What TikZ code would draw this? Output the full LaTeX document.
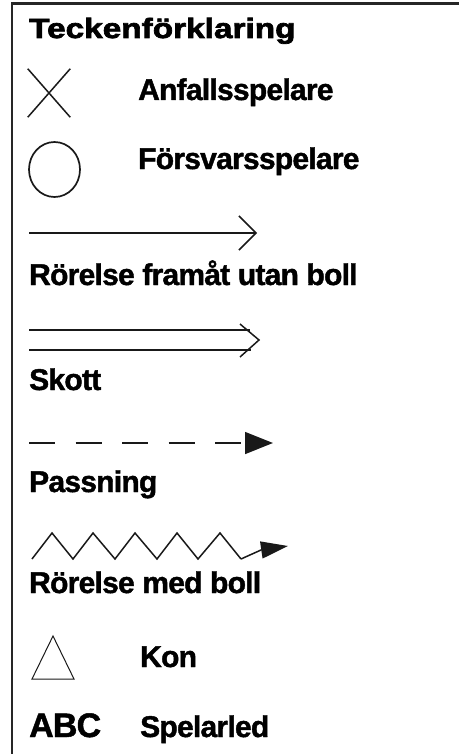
\documentclass[tikz,border=0pt]{standalone}
\usepackage{fontspec}
\setmainfont{Liberation Sans}
\newfontfamily\rubrikfont[FakeStretch=1.2,FakeBold=2.5]{Liberation Sans Bold}
\newfontfamily\lblfont[FakeBold=1.4,LetterSpace=-2.5]{Liberation Sans Bold}
\usetikzlibrary{arrows.meta,shapes.misc,shapes.geometric}
\tikzset{
  lbl/.style={anchor=base west, inner sep=0pt, font=\fontsize{30}{32}\lblfont},
  sym/.style={line width=1.5pt, black!90}
}
\begin{document}
\begin{tikzpicture}[x=1pt, y=-1pt]
        \useasboundingbox (0,0) rectangle (459,754);
        % ram
        \coordinate (ram-nv) at (12,754); \coordinate (ram-v) at (12,3.5); \coordinate (ram-h) at (459,3.5);
        \draw[line width=2.5pt, black!85] (ram-nv) -- (ram-v) -- (ram-h);
        \node[anchor=base west, inner sep=0pt, font=\fontsize{27.8}{30}\selectfont\rubrikfont] (rubrik) at (29,38) {Teckenförklaring};
        % spelare
        \node[sym, draw, cross out, minimum width=41pt, minimum height=47pt, inner sep=0pt] (anfall-sym) at (49,93) {};
        \node[lbl] (anfall) at (138,100) {Anfallsspelare};
        \node[sym, draw, ellipse, minimum width=51pt, minimum height=55pt, inner sep=0pt, line width=1.7pt] (forsvar-sym) at (54.5,169.5) {};
        \node[lbl] (forsvar) at (138,169) {Försvarsspelare};
        % rorelse utan boll
        \coordinate (fram-s) at (29,233); \coordinate (fram-e) at (257,233);
        \draw[sym, -{Straight Barb[length=17pt, width=34pt, line width=1.5pt]}] (fram-s) -- (fram-e);
        \node[lbl] (fram) at (29,285) {Rörelse framåt utan boll};
        % skott
        \coordinate (skott-s1) at (29,330); \coordinate (skott-e1) at (250,330);
        \coordinate (skott-s2) at (29,350); \coordinate (skott-e2) at (251,350);
        \coordinate (skott-e) at (259,340);
        \draw[sym] (skott-s1) -- (skott-e1); \draw[sym] (skott-s2) -- (skott-e2);
        \draw[sym, line join=miter] ([shift={(-19,-16)}]skott-e) -- (skott-e) -- ([shift={(-19,17)}]skott-e);
        \node[lbl] (skott) at (29,390) {Skott};
        % passning
        \coordinate (pass-s) at (29,443); \coordinate (pass-e) at (273,443);
        \draw[sym, dash pattern=on 26pt off 20.5pt, -{Triangle[length=28pt, width=22pt]}] (pass-s) -- (pass-e);
        \node[lbl] (pass) at (29,492) {Passning};
        % rorelse med boll
        \coordinate (boll-s) at (32,559); \coordinate (boll-k) at (241,559);
        \coordinate (boll-m) at (261,550); \coordinate (boll-e) at (288,546);
        \draw[sym, line join=miter] (boll-s) -- (52,533) -- (73,559) -- (93,533) -- (115,559) -- (135,533) -- (157,559)
             -- (177,533) -- (198,559) -- (220,533) -- (boll-k);
        \draw[sym, -{Triangle[length=27pt, width=17pt]}] (boll-k) -- (boll-m) -- (boll-e);
        \node[lbl] (medboll) at (29,593) {Rörelse med boll};
        % kon
        \coordinate (kon-a) at (53,636); \coordinate (kon-v) at (32,679); \coordinate (kon-h) at (74,679);
        \draw[line width=1pt, black!90] (kon-a) -- (kon-v) -- (kon-h) -- cycle;
        \node[lbl] (kon) at (140,667) {Kon};
        % spelarled
        \node[anchor=base west, inner sep=0pt, font=\fontsize{34}{36}\lblfont] (abc) at (29,737) {ABC};
        \node[lbl] (led) at (140,737) {Spelarled};
\end{tikzpicture}
\end{document}
